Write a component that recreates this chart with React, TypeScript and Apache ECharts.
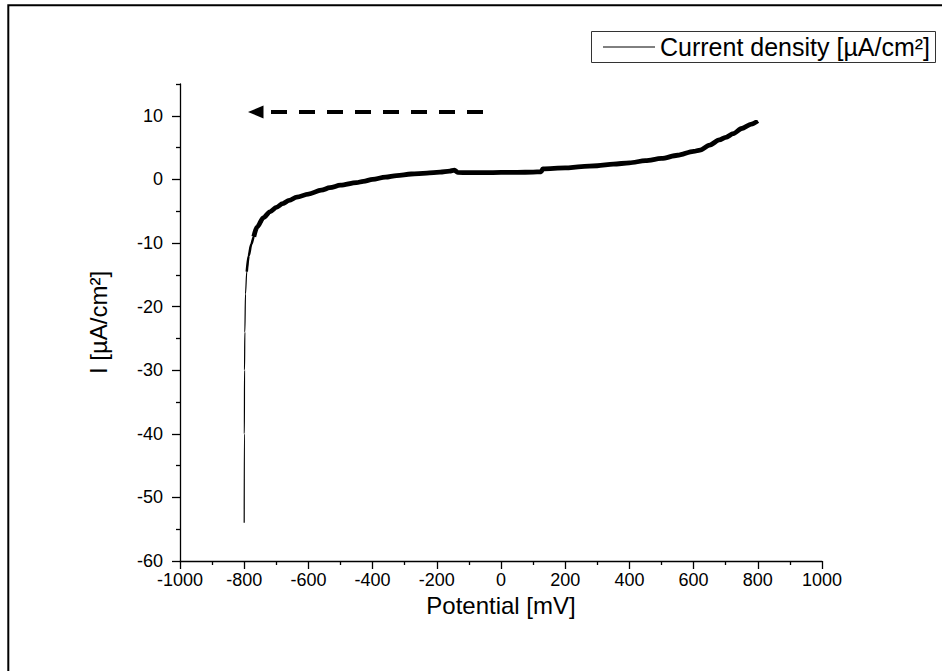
import React, { useEffect, useRef } from "react";
import * as echarts from "echarts";

const potential = [
  -800, -799.5, -799, -798, -796, -792, -786, -778, -770, -760, -740, -720, -700,
  -680, -660, -636, -600, -560, -533, -500, -450, -429, -400, -360, -325, -280,
  -231, -190, -160, -145, -135, -100, -50, 0, 50, 100, 125, 130, 200, 250, 300,
  350, 400, 450, 500, 550, 600, 620, 650, 680, 700, 724, 750, 780, 800,
];
const current = [
  -54, -40, -30, -24, -18, -14.5, -12, -10.2, -9, -7.5, -6, -5.1, -4.4,
  -3.8, -3.3, -2.8, -2.3, -1.7, -1.3, -0.9, -0.5, -0.3, 0.0, 0.35, 0.6, 0.85,
  1.0, 1.15, 1.3, 1.45, 1.1, 1.05, 1.05, 1.1, 1.1, 1.15, 1.2, 1.65, 1.8, 2.0, 2.15,
  2.4, 2.6, 2.95, 3.3, 3.8, 4.4, 4.6, 5.4, 6.2, 6.6, 7.2, 8.0, 8.7, 9.2,
];
const yMajor = [-60, -50, -40, -30, -20, -10, 0, 10];
const yMinor = [-55, -45, -35, -25, -15, -5, 5, 15];
const seriesName = "Current density [µA/cm²]";

const FONT = "Liberation Sans, Arial, sans-serif";

export default function App() {
  const ref = useRef<HTMLDivElement>(null);
  useEffect(() => {
    document.body.style.margin = "0";
    const chart = echarts.init(ref.current!, undefined, { renderer: "svg" });
    const all = potential.map((p, i) => [p, current[i]]);
    const mid = all.filter((d) => d[0] >= -794 && d[0] <= -740);
    const thick = all.filter((d) => d[0] >= -770);
    const axisStyle = { color: "#000", width: 1.3 };
    chart.setOption({
      animation: false,
      backgroundColor: "#fff",
      textStyle: { fontFamily: FONT },
      grid: { left: 180, right: 120, top: 84, bottom: 110 },
      xAxis: {
        type: "value",
        min: -1000,
        max: 1000,
        interval: 200,
        name: "Potential [mV]",
        nameLocation: "middle",
        nameGap: 26,
        nameTextStyle: { fontSize: 24, color: "#000", fontFamily: FONT },
        axisLine: { onZero: false, lineStyle: axisStyle },
        axisTick: { length: 8, lineStyle: axisStyle },
        minorTick: { show: true, splitNumber: 2, length: 4, lineStyle: axisStyle },
        axisLabel: {
          fontSize: 18,
          color: "#000",
          margin: 10,
          fontFamily: FONT,
          formatter: (v: number) => String(v),
        },
        splitLine: { show: false },
      },
      yAxis: [
        {
          type: "value",
          min: -60,
          max: 15,
          name: "I [µA/cm²]",
          nameLocation: "middle",
          nameGap: 70,
          nameRotate: 90,
          nameTextStyle: { fontSize: 24, color: "#000", fontFamily: FONT },
          axisLine: { onZero: false, lineStyle: axisStyle },
          axisTick: { length: 8, customValues: yMajor, lineStyle: axisStyle },
          axisLabel: {
            fontSize: 18,
            color: "#000",
            margin: 17,
            fontFamily: FONT,
            customValues: yMajor,
            formatter: (v: number) => String(v),
          },
          splitLine: { show: false },
        },
        {
          type: "value",
          min: -60,
          max: 15,
          position: "left",
          axisLine: { show: false, onZero: false },
          axisTick: { length: 4, customValues: yMinor, lineStyle: axisStyle },
          axisLabel: { show: false },
          splitLine: { show: false },
        },
      ],
      series: [
        {
          name: seriesName,
          type: "line",
          data: all,
          showSymbol: false,
          symbol: "none",
          smooth: 0.3,
          smoothMonotone: "x",
          lineStyle: { color: "#000", width: 1.2 },
          itemStyle: { color: "#000" },
        },
        {
          name: "mid",
          type: "line",
          data: mid,
          symbol: "none",
          smooth: 0.3,
          smoothMonotone: "x",
          lineStyle: { color: "#000", width: 2.5 },
          silent: true,
        },
        {
          name: "thick",
          type: "line",
          data: thick,
          symbol: "none",
          smooth: 0.3,
          smoothMonotone: "x",
          lineStyle: { color: "#000", width: 4.8 },
          silent: true,
        },
      ],
      graphic: [
        {
          type: "rect",
          shape: { x: 8.3, y: 5.3, width: 1000, height: 1000 },
          style: { fill: "none", stroke: "#000", lineWidth: 2 },
          silent: true,
        },
        {
          type: "line",
          shape: { x1: 271, y1: 112, x2: 483, y2: 112 },
          style: { stroke: "#000", lineWidth: 4, lineDash: [16, 12] },
          silent: true,
        },
        {
          type: "polygon",
          shape: { points: [[248, 112], [263.5, 105.5], [263.5, 118.5]] },
          style: { fill: "#000" },
          silent: true,
        },
        {
          type: "group",
          silent: true,
          children: [
            {
              type: "rect",
              shape: { x: 591.5, y: 31.5, width: 344, height: 31 },
              style: { fill: "#fff", stroke: "#333", lineWidth: 1 },
            },
            {
              type: "line",
              shape: { x1: 603, y1: 47, x2: 655, y2: 47 },
              style: { stroke: "#000", lineWidth: 1 },
            },
            {
              type: "text",
              x: 660,
              y: 47,
              style: {
                text: seriesName,
                fontSize: 25,
                fontFamily: FONT,
                fill: "#000",
                verticalAlign: "middle",
                align: "left",
              },
            },
          ],
        },
      ],
    });
    return () => chart.dispose();
  }, []);
  return <div ref={ref} style={{ width: 942, height: 671 }} />;
}
